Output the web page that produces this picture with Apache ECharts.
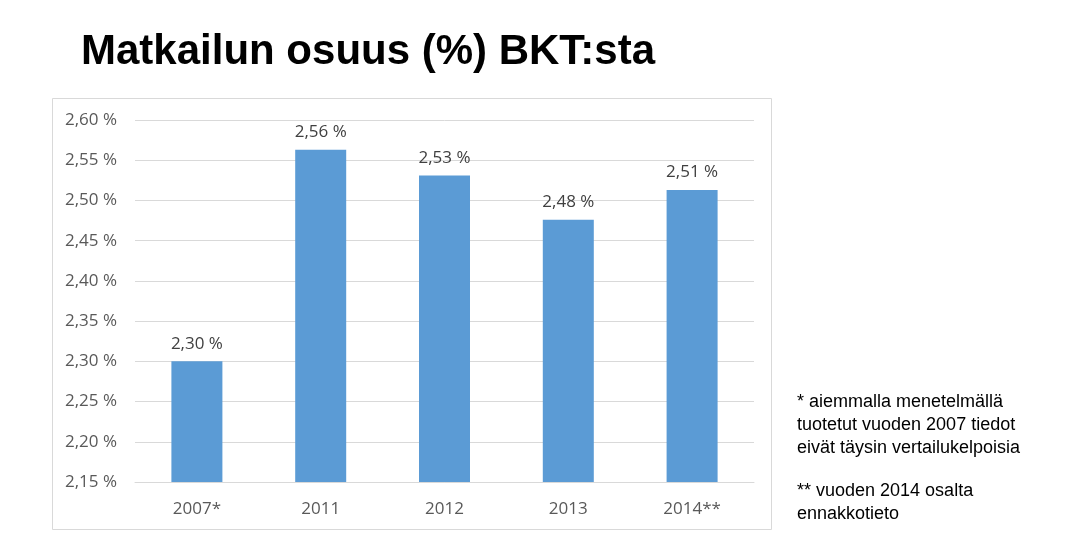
<!DOCTYPE html>
<html><head><meta charset="utf-8">
<script src="https://cdn.jsdelivr.net/npm/echarts@6/dist/echarts.min.js"></script>
<style>html,body{margin:0;padding:0;background:#fff}#c{width:1079px;height:541px}</style>
</head><body><div id="c"></div>
<script>
const categories = ['2007*', '2011', '2012', '2013', '2014**'];
const values = [2.300, 2.563, 2.531, 2.476, 2.513];
const yTicks = { min: 2.15, max: 2.60, step: 0.05 };
const titleText = 'Matkailun osuus (%) BKT:sta';
const noteA = ['* aiemmalla menetelmällä', 'tuotetut vuoden 2007 tiedot', 'eivät täysin vertailukelpoisia'];
const noteB = ['** vuoden 2014 osalta', 'ennakkotieto'];

const fmt = v => v.toFixed(2).replace('.', ',') + ' %';
const chart = echarts.init(document.getElementById('c'), null, {renderer: 'canvas'});
chart.setOption({
  animation: false,
  backgroundColor: '#fff',
  title: {
    text: titleText, left: 76, top: 26,
    textStyle: { fontFamily: 'Liberation Sans', fontWeight: 'bold', fontSize: 42, color: '#000' }
  },
  graphic: [
    { type: 'rect', shape: { x: 52.5, y: 98.5, width: 719, height: 431 }, style: { fill: 'none', stroke: '#D9D9D9', lineWidth: 1 }, z: -1 },
    { type: 'text', x: 797, y: 390, style: { text: noteA.join('\n'), fontFamily: 'Liberation Sans', fontSize: 18, lineHeight: 23.3, fill: '#000' } },
    { type: 'text', x: 797, y: 479, style: { text: noteB.join('\n'), fontFamily: 'Liberation Sans', fontSize: 18, lineHeight: 23.3, fill: '#000' } }
  ],
  grid: { left: 135, right: 325, top: 120, bottom: 59 },
  xAxis: {
    type: 'category', data: categories,
    axisLine: { lineStyle: { color: '#D9D9D9' } },
    axisTick: { show: false },
    axisLabel: { color: '#595959', fontFamily: 'Open Sans', fontSize: 17, margin: 19 }
  },
  yAxis: {
    type: 'value', min: yTicks.min, max: yTicks.max, interval: yTicks.step,
    axisLine: { show: false }, axisTick: { show: false },
    splitLine: { lineStyle: { color: '#D9D9D9' } },
    axisLabel: { color: '#595959', fontFamily: 'Open Sans', fontSize: 17, margin: 18, formatter: v => fmt(v) }
  },
  series: [{
    type: 'bar', data: values, barWidth: 51,
    itemStyle: { color: '#5B9BD5' },
    label: { show: true, position: 'top', distance: 9, color: '#404040', fontFamily: 'Open Sans', fontSize: 17, formatter: p => fmt(p.value) }
  }]
});
</script></body></html>
